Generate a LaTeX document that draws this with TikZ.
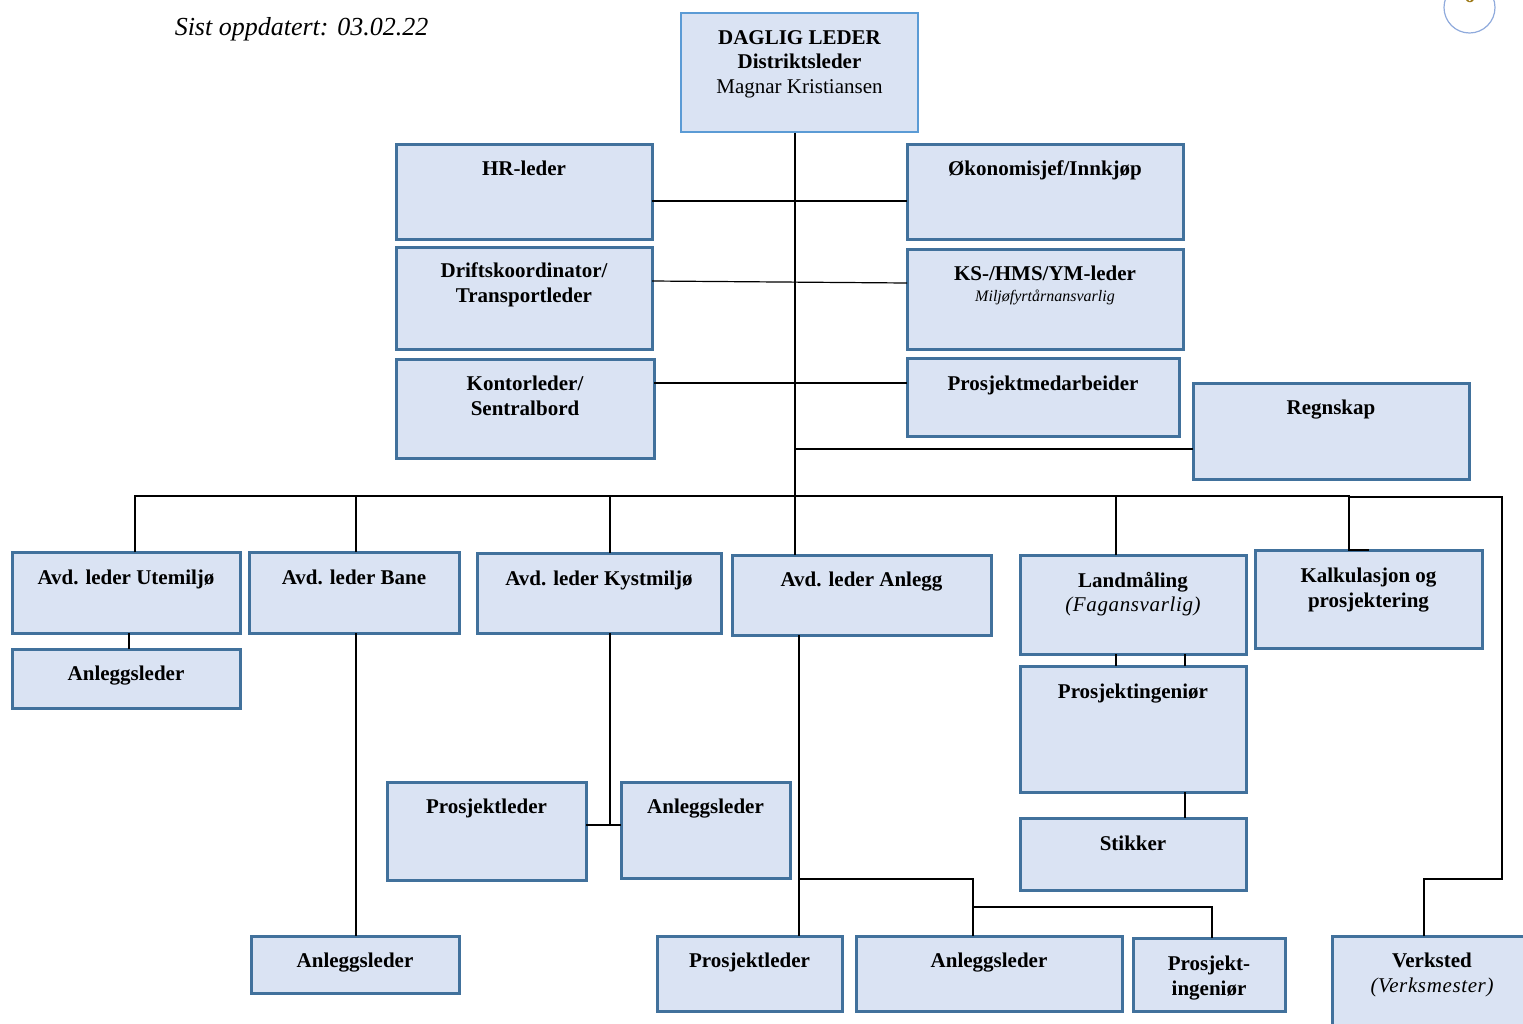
\documentclass[tikz,border=0pt]{standalone}
\usepackage{fontspec}
\setmainfont{Liberation Serif}
\usetikzlibrary{calc}
\definecolor{boxfill}{RGB}{218,227,243}
\definecolor{boxline}{RGB}{65,113,156}
\definecolor{topline}{RGB}{91,155,213}
\definecolor{circline}{RGB}{143,170,220}
\definecolor{pagegold}{RGB}{156,120,20}
\newcommand\obox[7]{%
  \node[boxst, minimum width={(#4-#2)*1pt}, minimum height={(#5-#3)*1pt}] (#1) at ({(#2+#4)/2},{(#3+#5)/2}) {};
  \node[txt] (#1-t) at ({(#2+#4)/2},#6) {#7};
}
\begin{document}
\begin{tikzpicture}[x=1pt,y=-1pt,
  boxst/.style={draw=boxline, line width=3pt, fill=boxfill, inner sep=0pt, outer sep=0pt},
  txt/.style={anchor=north, align=center, inner sep=0pt, font=\fontsize{21}{24.5}\selectfont\bfseries},
  subst/.style={anchor=base, inner sep=0pt, font=\fontsize{16}{18}\selectfont\itshape},
  conn/.style={draw=black, line width=1.2pt}]
\useasboundingbox (0,0) rectangle (1523,1023);

% header
\node[anchor=center, inner sep=0pt, font=\fontsize{26}{30}\selectfont\itshape] (date) at (301.5,29) {Sist oppdatert: 03.02.22};
\node[circle, draw=circline, line width=1.2pt, minimum size=51pt, inner sep=0pt] (pg) at (1469.5,7.5) {};
\node[inner sep=0pt, font=\fontsize{21}{24}\selectfont\bfseries, text=pagegold] (pgnum) at (1469.5,-4) {6};

% top box
\node[draw=topline, line width=1.3pt, fill=boxfill, minimum width=237pt, minimum height=119pt, inner sep=0pt] (daglig) at (799.5,72.5) {};
\node[txt] (daglig-t) at (799.5,30) {DAGLIG LEDER\\Distriktsleder\\\mdseries Magnar Kristiansen};

% staff boxes
\obox{hr}{396}{144}{652}{239}{161}{HR-leder}
\obox{oko}{907}{144}{1183}{239}{161}{Økonomisjef/Innkjøp}
\obox{drift}{396}{247}{652}{349}{263}{Driftskoordinator/\\Transportleder}
\obox{ks}{907}{249}{1183}{349}{266}{KS-/HMS/YM-leder}
\node[subst] (ks-s) at (1045,301) {Miljøfyrtårnansvarlig};
\obox{kontor}{396}{359}{654}{458}{376}{Kontorleder/\\Sentralbord}
\obox{prosjm}{907}{358}{1179}{436}{376}{Prosjektmedarbeider}
\obox{regn}{1193}{383}{1469}{479}{400}{Regnskap}

% departments
\obox{ute}{12}{552}{240}{633}{570}{Avd. leder Utemiljø}
\obox{anl1}{12}{649}{240}{708}{666}{Anleggsleder}
\obox{bane}{249}{552}{459}{633}{570}{Avd. leder Bane}
\obox{kyst}{477}{553}{721}{633}{571}{Avd. leder Kystmiljø}
\obox{anlegg}{732}{555}{991}{635}{572}{Avd. leder Anlegg}
\obox{land}{1020}{555}{1246}{654}{572}{Landmåling\\\mdseries\itshape\addfontfeatures{LetterSpace=3} (Fagansvarlig)}
\obox{kalk}{1255}{550}{1482}{648}{568}{Kalkulasjon og\\prosjektering}
\obox{pi1}{1020}{666}{1246}{792}{684}{Prosjektingeniør}
\obox{stik}{1020}{818}{1246}{890}{836}{Stikker}
\obox{pl1}{387}{782}{586}{880}{799}{Prosjektleder}
\obox{al2}{621}{782}{790}{878}{799}{Anleggsleder}
\obox{anl2}{251}{936}{459}{993}{953}{Anleggsleder}
\obox{pl2}{657}{936}{842}{1011}{953}{Prosjektleder}
\obox{al3}{856}{936}{1122}{1011}{953}{Anleggsleder}
\obox{pi2}{1133}{938}{1285}{1011}{956}{Prosjekt-\\ingeniør}
\obox{verk}{1332}{936}{1532}{1040}{953}{Verksted\\\mdseries\itshape\addfontfeatures{LetterSpace=3} (Verksmester)}

% connectors
\coordinate (spine) at ([xshift=-4.5pt]daglig.south);
\coordinate (bus) at (795,496);
\draw[conn] (spine) -- (spine |- anlegg.north);
\draw[conn] ([yshift=-9.5pt]hr.east) -- ([yshift=-9.5pt]oko.west);
\draw[conn] ([yshift=17pt]drift.east) -- ([yshift=16pt]ks.west);
\draw[conn] ([yshift=25.5pt]kontor.east) -- ([yshift=14pt]prosjm.west);
\coordinate (rj) at ([yshift=-18pt]regn.west);
\draw[conn] (rj) -- (rj -| spine);

\coordinate (uted) at ([xshift=9pt]ute.north);
\coordinate (kalkd) at ([xshift=-19.5pt]kalk.north);
\draw[conn] (uted) -- (uted |- bus) -- (kalkd |- bus) -- (kalkd) -- (kalk.north);
\coordinate (baned) at ([xshift=2pt]bane.north);
\draw[conn] (baned) -- (baned |- bus);
\coordinate (kystd) at ([xshift=11pt]kyst.north);
\draw[conn] (kystd) -- (kystd |- bus);
\coordinate (landd) at ([xshift=-17pt]land.north);
\draw[conn] (landd) -- (landd |- bus);

\coordinate (verkd) at ([xshift=-8pt]verk.north);
\coordinate (eastc) at ($(kalkd |- bus)+(153,1)$);
\draw[conn] (verkd) -- ++(0,-57) -| (eastc) -- (kalkd |- eastc);

\draw[conn] ([xshift=3pt]ute.south) -- ([xshift=3pt]anl1.north);
\coordinate (banes) at ([xshift=2pt]bane.south);
\draw[conn] (banes) -- (banes |- anl2.north);
\coordinate (kysts) at ([xshift=11pt]kyst.south);
\coordinate (plj) at ([yshift=6pt]pl1.east);
\draw[conn] (kysts) -- (kysts |- plj);
\draw[conn] (plj) -- (plj -| al2.west);

\coordinate (anls) at ([xshift=-62.5pt]anlegg.south);
\draw[conn] (anls) -- (anls |- pl2.north);
\coordinate (al3d) at ([xshift=-16pt]al3.north);
\coordinate (j1) at ($(al3d)+(0,-57)$);
\draw[conn] (anls |- j1) -- (j1) -- (al3d);
\coordinate (j2) at ($(al3d)+(0,-29)$);
\coordinate (pi2d) at ([xshift=3pt]pi2.north);
\draw[conn] (j2) -| (pi2d);

\draw[conn] ([xshift=-17pt]land.south) -- ([xshift=-17pt]pi1.north);
\draw[conn] ([xshift=52pt]land.south) -- ([xshift=52pt]pi1.north);
\draw[conn] ([xshift=52pt]pi1.south) -- ([xshift=52pt]stik.north);
\end{tikzpicture}
\end{document}
